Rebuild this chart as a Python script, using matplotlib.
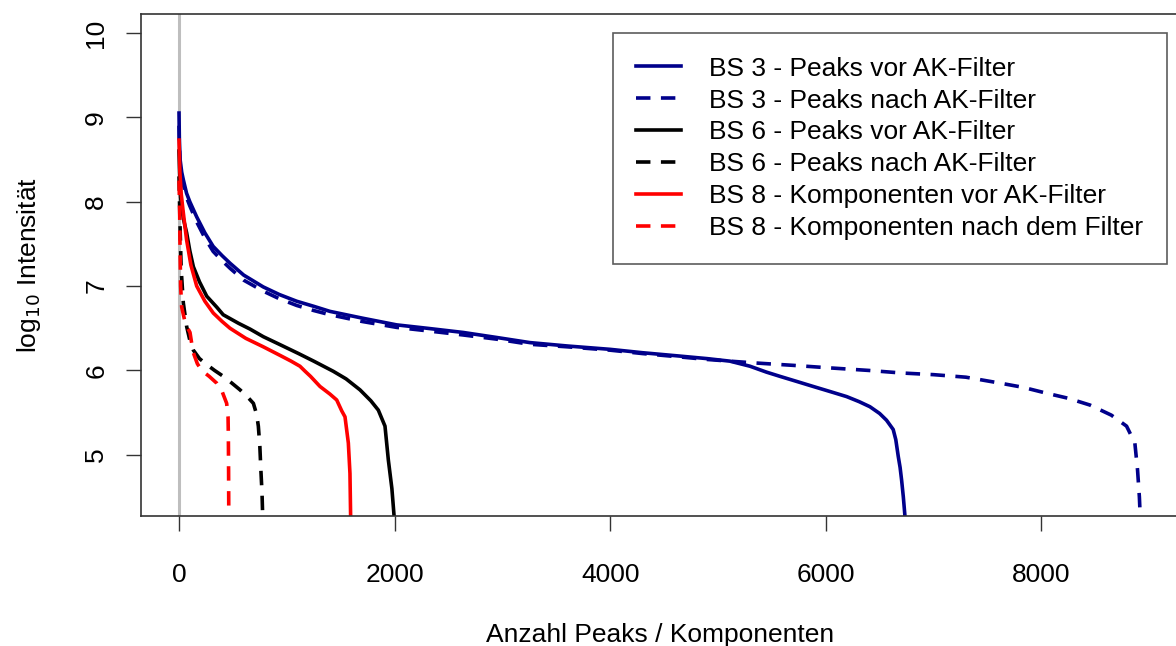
import matplotlib
matplotlib.use('Agg')
import matplotlib.pyplot as plt

# BS 3 - Peaks vor AK-Filter
bs3_vor_x = [0, 3, 10, 25, 40, 70, 100, 164, 240, 317, 400, 474, 600, 781, 930, 1092, 1250, 1400, 1700,
             2019, 2300, 2637, 2950, 3255, 3600, 4000, 4300, 4647, 4900, 5111, 5297, 5450, 5575, 5730,
             5884, 6040, 6194, 6310, 6410, 6500, 6564, 6626, 6650, 6673, 6690, 6704, 6720, 6740]
bs3_vor_y = [9.05, 8.75, 8.5, 8.35, 8.26, 8.1, 8.0, 7.82, 7.63, 7.47, 7.36, 7.27, 7.13, 6.99, 6.9, 6.82,
             6.76, 6.70, 6.62, 6.54, 6.50, 6.45, 6.39, 6.33, 6.29, 6.25, 6.21, 6.17, 6.14, 6.11, 6.05,
             5.98, 5.93, 5.87, 5.81, 5.75, 5.69, 5.63, 5.57, 5.49, 5.41, 5.30, 5.18, 4.98, 4.85, 4.70,
             4.50, 4.20]

# BS 3 - Peaks nach AK-Filter
bs3_nach_x = [0, 3, 10, 25, 40, 70, 100, 164, 240, 317, 400, 474, 600, 781, 930, 1092, 1250, 1400, 1700,
              2019, 2300, 2637, 2950, 3255, 3600, 4000, 4300, 4647, 4900, 5111, 5328, 5700, 6039, 6400,
              6700, 7000, 7300, 7616, 7830, 8049, 8250, 8451, 8650, 8791, 8868, 8893, 8910, 8920]
bs3_nach_y = [8.9, 8.65, 8.45, 8.3, 8.2, 8.05, 7.95, 7.76, 7.57, 7.41, 7.3, 7.21, 7.07, 6.94, 6.85, 6.77,
              6.71, 6.66, 6.58, 6.51, 6.47, 6.42, 6.37, 6.31, 6.28, 6.24, 6.20, 6.16, 6.13, 6.11, 6.09,
              6.06, 6.03, 6.00, 5.97, 5.95, 5.92, 5.85, 5.80, 5.73, 5.67, 5.59, 5.47, 5.34, 5.14, 4.82,
              4.50, 4.20]

# BS 6 - Peaks vor AK-Filter
bs6_vor_x = [0, 5, 15, 40, 71, 100, 133, 190, 257, 350, 410, 550, 659, 782, 930, 1109, 1250, 1431,
             1550, 1679, 1780, 1849, 1911, 1942, 1975, 2000]
bs6_vor_y = [8.6, 8.35, 8.05, 7.8, 7.63, 7.42, 7.23, 7.05, 6.88, 6.75, 6.66, 6.56, 6.49, 6.40, 6.31,
             6.20, 6.11, 5.99, 5.90, 5.77, 5.64, 5.53, 5.34, 4.94, 4.60, 4.20]

# BS 6 - Peaks nach AK-Filter
bs6_nach_x = [0, 8, 20, 40, 71, 100, 133, 190, 257, 330, 411, 490, 566, 640, 690, 720, 736, 750, 758,
              770, 778]
bs6_nach_y = [8.3, 7.8, 7.2, 6.8, 6.52, 6.36, 6.24, 6.14, 6.07, 6.0, 5.93, 5.85, 5.77, 5.68, 5.61,
              5.48, 5.34, 5.1, 4.86, 4.55, 4.20]

# BS 8 - Komponenten vor AK-Filter
bs8_vor_x = [0, 8, 20, 37, 70, 110, 164, 240, 318, 400, 473, 620, 782, 950, 1040, 1122, 1170, 1220,
             1308, 1400, 1463, 1510, 1540, 1560, 1571, 1586, 1593]
bs8_vor_y = [8.73, 8.35, 8.1, 7.9, 7.55, 7.25, 7.0, 6.82, 6.68, 6.58, 6.50, 6.38, 6.28, 6.17, 6.11,
             6.05, 5.99, 5.93, 5.81, 5.72, 5.65, 5.52, 5.45, 5.25, 5.14, 4.78, 4.20]

# BS 8 - Komponenten nach dem Filter
bs8_nach_x = [0, 6, 10, 15, 25, 60, 102, 130, 170, 210, 280, 349, 400, 442, 455, 458, 460, 462]
bs8_nach_y = [8.25, 7.9, 7.4, 7.0, 6.75, 6.55, 6.45, 6.22, 6.08, 6.0, 5.93, 5.85, 5.75, 5.61, 5.45,
              5.2, 4.8, 4.20]

labels = ["BS 3 - Peaks vor AK-Filter", "BS 3 - Peaks nach AK-Filter",
          "BS 6 - Peaks vor AK-Filter", "BS 6 - Peaks nach AK-Filter",
          "BS 8 - Komponenten vor AK-Filter", "BS 8 - Komponenten nach dem Filter"]

plt.rcParams['font.family'] = ['Liberation Sans', 'DejaVu Sans']

fig = plt.figure(figsize=(11.76, 6.46), dpi=100)
ax = fig.add_axes([0.1195, 0.2019, 0.883, 0.7759])

dash = (4.0, 2.9)
lw = 2.6
ax.axvline(0, color='#bebebe', lw=2.2, zorder=1)
ax.plot(bs3_vor_x, bs3_vor_y, color='#00008b', lw=lw, label=labels[0])
ax.plot(bs3_nach_x, bs3_nach_y, color='#00008b', lw=lw, dashes=dash, label=labels[1])
ax.plot(bs6_vor_x, bs6_vor_y, color='black', lw=lw, label=labels[2])
ax.plot(bs6_nach_x, bs6_nach_y, color='black', lw=lw, dashes=dash, label=labels[3])
ax.plot(bs8_vor_x, bs8_vor_y, color='red', lw=lw, label=labels[4])
ax.plot(bs8_nach_x, bs8_nach_y, color='red', lw=lw, dashes=dash, label=labels[5])

ax.set_xlim(-357, 9277)
ax.set_ylim(4.28, 10.22)
ax.set_xticks([0, 2000, 4000, 6000, 8000])
ax.set_yticks([5, 6, 7, 8, 9, 10])
ax.tick_params(direction='out', length=10.8, width=1, labelsize=19, color='#333333')
ax.tick_params(axis='x', pad=23)
ax.tick_params(axis='y', pad=12.5)
plt.setp(ax.get_yticklabels(), rotation=90, va='center')
for s in ax.spines.values():
    s.set_linewidth(1.2)
    s.set_color('#333333')

ax.set_xlabel('Anzahl Peaks / Komponenten', fontsize=19, labelpad=26)
ax.set_ylabel('log$_{10}$ Intensität', fontsize=19, labelpad=30)

leg = ax.legend(loc='upper right', bbox_to_anchor=(0.9885, 0.963), fontsize=19,
                frameon=True, fancybox=False, edgecolor='#333333', handlelength=1.7,
                handletextpad=1.06, borderpad=0.9, labelspacing=0.3, borderaxespad=0)
leg.get_frame().set_linewidth(1.2)

plt.savefig('out.png', dpi=100)
